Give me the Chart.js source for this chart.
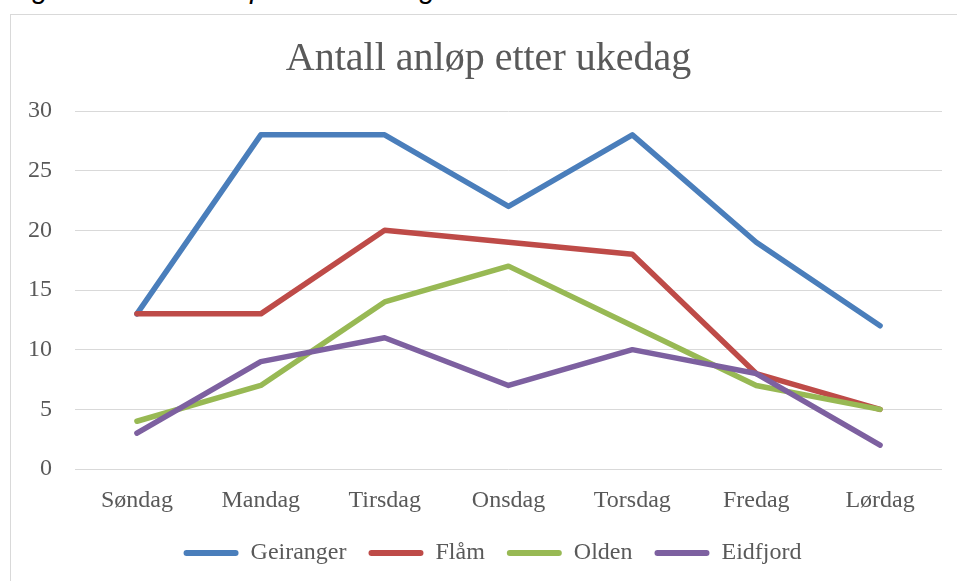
<!DOCTYPE html>
<html>
<head>
<meta charset="utf-8">
<script src="https://cdn.jsdelivr.net/npm/chart.js@4"></script>
<style>
  html, body { margin: 0; padding: 0; background: #fff; overflow: hidden; }
  body { width: 957px; height: 581px; position: relative; }
  #caption {
    position: absolute; left: 8px; top: -26px; white-space: nowrap;
    font: italic 29px/29px "Liberation Sans", Arial, sans-serif; color: #000;
  }
  #frame {
    position: absolute; left: 10px; top: 14px; width: 980px; height: 600px;
    border: 1px solid #d9d9d9; box-sizing: border-box;
  }
  #wrap { position: absolute; left: 11px; top: 15px; width: 946px; height: 566px; }
</style>
</head>
<body>
<div id="caption">Figur 3: Antall anløp etter ukedag</div>
<div id="frame"></div>
<div id="wrap"><canvas id="chart"></canvas></div>
<script>
// data
const days = ['Søndag', 'Mandag', 'Tirsdag', 'Onsdag', 'Torsdag', 'Fredag', 'Lørdag'];
const geiranger = [13, 28, 28, 22, 28, 19, 12];
const flam      = [13, 13, 20, 19, 18, 8, 5];
const olden     = [4, 7, 14, 17, 12, 7, 5];
const eidfjord  = [3, 9, 11, 7, 10, 8, 2];

const textColor = '#595959';
const serif = '"Liberation Serif", "Times New Roman", serif';

function series(label, data, color, order)
{
  return {
    label: label,
    data: data,
    borderColor: color,
    backgroundColor: color,
    borderWidth: 5.5,
    borderCapStyle: 'round',
    borderJoinStyle: 'round',
    pointRadius: 0,
    tension: 0,
    order: order
  };
}

// title and legend sit a bit right of the canvas middle in the original
const boxShift = {
  id: 'boxShift',
  afterLayout(chart) {
    let lg = chart.legend;
    if (lg) { lg.left += 16; lg.right += 16; }
    let tb = chart.titleBlock;
    if (tb) { tb.left += 12; tb.right += 12; }
  }
};

const config = {
  type: 'line',
  data: {
    labels: days,
    datasets: [
      series('Geiranger', geiranger, '#4a7ebb', 4),
      series('Flåm', flam, '#be4b48', 3),
      series('Olden', olden, '#98b954', 2),
      series('Eidfjord', eidfjord, '#7d60a0', 1)
    ]
  },
  options: {
    responsive: true,
    maintainAspectRatio: false,
    animation: false,
    layout: { padding: { left: 0, right: 15, top: 0, bottom: 6 } },
    scales: {
      x: {
        offset: true,
        grid: { display: false },
        border: { display: false },
        ticks: { color: textColor, font: { family: serif, size: 24 }, padding: 9, maxRotation: 0 },
        afterFit: (s) => { s.height = 50; }
      },
      y: {
        min: 0,
        max: 30,
        grid: { color: '#d9d9d9', lineWidth: 1, drawTicks: false },
        border: { display: false },
        ticks: { stepSize: 5, color: textColor, font: { family: serif, size: 24 }, padding: 23 },
        afterFit: (s) => { s.width = 64; }
      }
    },
    plugins: {
      title: {
        display: true,
        text: 'Antall anløp etter ukedag',
        color: textColor,
        font: { family: serif, size: 40, weight: 'normal' },
        padding: { top: 20, bottom: 28 }
      },
      legend: {
        position: 'bottom',
        labels: {
          color: textColor,
          font: { family: serif, size: 24 },
          boxWidth: 55,
          boxHeight: 6,
          useBorderRadius: true,
          borderRadius: 3,
          padding: 22,
          sort: (a, b) => a.datasetIndex - b.datasetIndex,
          generateLabels: (chart) => {
            let items = Chart.defaults.plugins.legend.labels.generateLabels(chart);
            items.forEach(it => { it.lineWidth = 0; });
            return items;
          }
        }
      },
      tooltip: { enabled: false }
    }
  },
  plugins: [boxShift]
};

new Chart(document.getElementById('chart'), config);
</script>
</body>
</html>
